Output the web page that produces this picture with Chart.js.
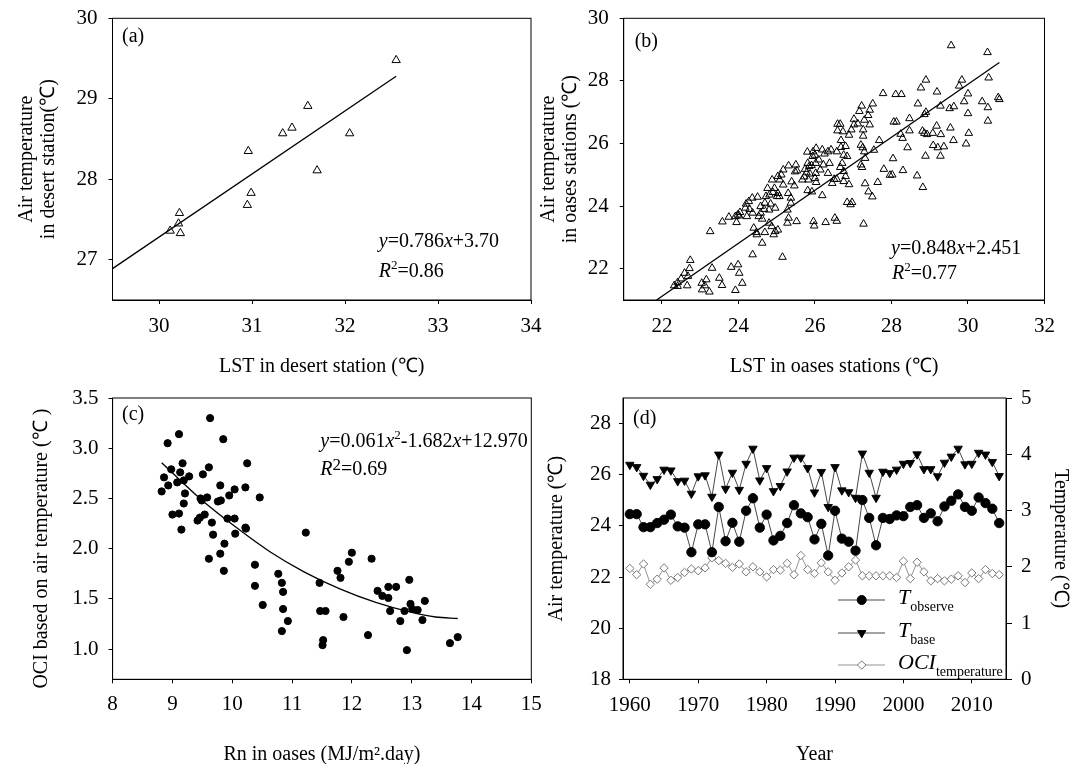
<!DOCTYPE html>
<html><head><meta charset="utf-8">
<script src="https://cdn.jsdelivr.net/npm/chart.js@4.4.1/dist/chart.umd.min.js"></script>
<style>
html,body{margin:0;padding:0;background:#fff;}
#wrap{position:relative;width:1078px;height:764px;overflow:hidden;}
canvas{position:absolute;left:0;top:0;}
</style></head><body><div id="wrap">
<canvas id="ca" width="1078" height="764"></canvas>
<canvas id="cb" width="1078" height="764"></canvas>
<canvas id="cc" width="1078" height="764"></canvas>
<canvas id="cd" width="1078" height="764"></canvas>
</div>
<script>
// ---------- Panel (a) ----------
const aX = [32.55,31.60,31.43,31.33,32.05,30.96,31.70,30.99,30.95,30.22,30.21,30.23,30.12];
const aY = [29.48,28.91,28.64,28.57,28.57,28.35,28.11,27.83,27.68,27.58,27.45,27.33,27.36];
const aFitX = [29.5, 32.55];
const aFitY = [26.89, 29.28];
const aTicksX = [30,31,32,33,34];
const aTicksY = [27,28,29,30];

// ---------- Panel (b) ----------
const bX = [29.56,30.51,30.54,30.79,30.82,30.37,30.52,30.52,29.84,29.77,30.00,29.90,30.00,29.95,30.02,29.63,29.52,29.54,29.62,29.37,29.21,29.28,29.28,29.19,29.29,29.18,29.08,29.09,28.89,28.90,28.77,28.69,28.90,28.86,28.81,28.86,28.93,28.82,28.67,28.26,28.11,27.78,28.47,28.13,28.06,28.24,28.29,28.47,28.42,28.04,28.30,28.02,27.96,27.80,27.64,27.50,27.40,27.31,27.27,27.68,27.54,27.51,27.43,27.39,27.43,27.22,27.16,27.29,27.12,27.26,27.26,27.20,27.29,27.31,27.20,27.23,27.25,27.02,27.02,26.95,26.89,26.80,26.66,26.73,26.59,26.59,26.68,26.68,26.57,26.75,26.84,26.71,26.66,26.75,26.80,26.89,26.75,26.84,26.97,26.93,26.52,26.57,26.28,26.19,26.42,26.34,26.25,26.38,26.22,26.14,26.34,26.50,26.45,26.57,26.19,26.03,25.95,26.00,25.94,26.10,26.02,25.91,25.80,25.81,25.85,25.74,25.78,25.87,26.02,26.00,26.03,25.83,25.81,25.92,25.96,25.98,25.50,25.48,25.31,25.17,25.12,25.08,25.03,24.88,25.17,25.39,25.46,25.03,24.94,24.90,24.81,25.01,25.07,24.84,24.96,24.80,24.69,24.67,24.58,24.53,24.50,24.27,24.29,24.18,24.37,24.58,24.62,24.69,24.87,24.92,24.96,25.03,24.80,24.62,24.37,24.40,24.48,24.47,24.22,24.04,24.02,23.95,23.98,23.92,23.75,23.58,25.30,25.37,25.37,25.28,25.31,25.28,25.52,25.15,23.26,23.31,23.81,23.99,24.02,24.10,23.92,23.57,23.50,23.24,23.16,23.04,23.05,23.12,22.74,22.72,22.68,22.59,22.50,22.41,22.32,22.41,22.66,24.36,24.20,24.72,24.76,25.72,25.67,25.53];
const bY = [29.13,28.91,28.10,27.47,27.41,27.34,27.15,26.72,28.03,27.84,27.59,27.34,26.96,25.99,26.33,27.18,27.12,26.50,26.10,25.90,25.87,25.60,27.20,27.65,26.29,26.56,26.33,25.94,25.60,28.03,27.78,27.27,27.00,26.93,26.40,26.33,26.29,24.60,24.97,27.57,27.57,27.60,26.80,26.69,26.69,26.30,26.17,26.41,25.87,25.52,25.14,25.00,24.99,25.18,24.76,24.30,24.46,24.72,23.43,26.10,25.79,27.27,27.07,26.90,26.60,27.20,27.03,26.75,26.63,26.44,26.24,25.95,25.74,25.53,25.32,25.24,25.87,26.78,26.60,26.44,26.27,25.91,26.62,26.38,26.62,26.41,26.10,25.88,25.74,25.63,25.59,25.37,25.24,25.11,24.95,24.69,24.79,24.12,24.12,24.05,23.62,23.52,23.48,24.34,25.80,25.74,25.67,25.37,25.32,25.16,25.05,24.86,24.73,24.86,25.80,25.85,25.74,25.63,25.59,25.48,25.37,25.30,25.73,25.37,25.27,25.18,25.07,25.03,25.05,24.89,24.76,24.84,24.50,24.46,23.51,23.37,25.32,25.10,25.29,25.16,25.00,24.84,24.95,24.84,24.68,24.78,24.65,24.41,24.57,24.44,24.36,24.31,24.31,24.07,23.94,23.88,24.10,23.90,23.78,23.67,24.29,24.15,23.90,23.94,23.78,23.99,23.59,23.16,23.35,23.09,23.19,23.24,23.46,22.82,22.45,23.30,23.09,23.16,23.67,23.80,23.69,23.48,23.72,23.67,23.65,23.50,24.41,24.26,24.10,23.88,23.62,23.46,23.51,22.37,23.19,22.02,22.05,22.13,21.86,21.54,21.31,21.47,21.70,21.26,21.65,21.54,21.33,21.46,22.27,22.01,21.76,21.86,21.68,21.56,21.46,21.44,21.46,24.26,24.07,24.31,24.57,24.94,24.84,25.13];
const bFitX = [21.86, 30.82];
const bFitY = [21.0, 28.59];
const bTicksX = [22,24,26,28,30,32];
const bTicksY = [22,24,26,28,30];

// ---------- Panel (c) ----------
const cX = [8.82,8.86,8.92,8.93,8.98,9.00,9.08,9.11,9.11,9.13,9.15,9.17,9.19,9.19,9.21,9.28,9.42,9.46,9.47,9.49,9.51,9.54,9.58,9.61,9.61,9.63,9.66,9.68,9.76,9.80,9.80,9.81,9.85,9.86,9.87,9.92,9.95,10.04,10.04,10.05,10.22,10.22,10.23,10.25,10.38,10.38,10.46,10.51,10.77,10.83,10.85,10.83,10.85,10.93,11.23,11.46,11.47,11.56,11.52,11.51,11.76,11.81,11.95,12.00,11.86,12.27,12.33,12.43,12.51,12.61,12.61,12.64,12.74,12.81,12.88,12.96,12.92,12.98,13.01,13.10,13.18,13.22,13.64,13.77];
const cY = [2.57,2.71,3.05,2.63,2.79,2.34,2.66,3.14,2.35,2.76,2.19,2.85,2.68,2.45,2.55,2.72,2.28,2.31,2.50,2.48,2.74,2.34,2.51,2.81,1.90,3.30,2.26,2.14,2.47,2.63,1.95,2.48,3.09,1.78,2.05,2.30,2.53,2.30,2.59,2.15,2.61,2.21,2.20,2.85,1.84,1.63,2.51,1.44,1.75,1.66,1.57,1.18,1.40,1.28,2.16,1.66,1.38,1.38,1.09,1.04,1.78,1.71,1.87,1.96,1.32,1.14,1.90,1.58,1.53,1.62,1.51,1.38,1.62,1.28,1.38,1.69,0.99,1.45,1.40,1.39,1.29,1.48,1.06,1.12];
const cFitX = [8.82,9.46,10.07,10.63,11.20,11.80,12.40,13.00,13.40,13.77];
const cFitY = [2.856,2.50,2.21,1.97,1.77,1.60,1.465,1.365,1.32,1.305];
const cTicksX = [8,9,10,11,12,13,14,15];
const cTicksY = [1.0,1.5,2.0,2.5,3.0,3.5];

// ---------- Panel (d) ----------
const years = [1960,1961,1962,1963,1964,1965,1966,1967,1968,1969,1970,1971,1972,1973,1974,1975,1976,1977,1978,1979,1980,1981,1982,1983,1984,1985,1986,1987,1988,1989,1990,1991,1992,1993,1994,1995,1996,1997,1998,1999,2000,2001,2002,2003,2004,2005,2006,2007,2008,2009,2010,2011,2012,2013,2014];
const tObserve = [24.46,24.46,23.95,23.95,24.11,24.24,24.44,23.98,23.93,22.97,24.06,24.06,22.97,24.74,23.40,24.12,23.38,24.59,25.08,23.93,24.44,23.43,23.61,24.11,24.81,24.49,24.34,23.47,24.08,22.84,24.59,23.50,23.38,23.03,25.01,24.31,23.24,24.31,24.27,24.41,24.38,24.74,24.81,24.31,24.49,24.18,24.76,24.98,25.23,24.74,24.59,25.11,24.89,24.67,24.11];
const tBase = [26.39,26.30,25.96,25.61,25.83,26.20,26.17,25.75,25.77,25.26,25.94,25.98,25.14,26.79,25.45,26.08,25.41,26.43,27.02,25.78,26.26,25.36,25.56,26.13,26.67,26.67,26.26,25.31,26.11,24.74,26.30,25.39,25.32,25.10,26.83,26.08,25.10,26.12,26.07,26.20,26.43,26.46,26.80,26.22,26.22,25.94,26.47,26.71,27.02,26.41,26.43,26.86,26.79,26.50,25.95];
const ociTemp = [1.97,1.86,2.05,1.69,1.78,1.98,1.76,1.81,1.90,1.96,1.93,1.98,2.16,2.11,2.06,1.99,2.05,1.91,2.00,1.91,1.82,1.95,1.94,2.06,1.86,2.20,1.95,1.88,2.07,1.91,1.76,1.89,2.00,2.12,1.84,1.84,1.84,1.84,1.84,1.81,2.10,1.79,2.08,1.91,1.75,1.79,1.75,1.78,1.84,1.72,1.89,1.79,1.95,1.88,1.86];
const dTicksX = [1960,1970,1980,1990,2000,2010];
const dTicksY = [18,20,22,24,26,28];
const dTicksY2 = [0,1,2,3,4,5];

// ---------- helpers ----------
const FONT = "'Liberation Serif','Times New Roman',serif";
function pts(xs, ys){ return xs.map((x,i)=>({x:x, y:ys[i]})); }
function fixSize(size){ return function(s){ if (s.isHorizontal()) s.height = size; else s.width = size; s.paddingTop=0; s.paddingBottom=0; s.paddingLeft=0; s.paddingRight=0; }; }
function axis(o){
  return {
    type:'linear', position:o.position, min:o.min, max:o.max,
    afterBuildTicks: function(s){ s.ticks = o.ticks.map(v=>({value:v})); },
    afterFit: fixSize(o.size),
    border:{display:true, color:'#000', width:1},
    grid:{display:true, drawOnChartArea:false, drawTicks:true, tickLength:o.tl||4, color:'#000', lineWidth:1},
    ticks:{color:'#000', autoSkip:false, maxRotation:0, padding:o.pad, font:{family:FONT, size:21},
      callback: o.fmt || (v=>String(v))},
    title:{display:true, text:o.title, color:'#000', font:{family:FONT, size:20, lineHeight:o.lh||1}, padding:o.tpad}
  };
}
function drawRuns(ctx, x, y, runs, base){
  runs.forEach(r=>{
    const size = r.size || base;
    ctx.font = (r.i ? 'italic ' : '') + size + 'px ' + FONT;
    ctx.fillText(r.t, x, y + (r.dy||0));
    x += ctx.measureText(r.t).width;
  });
}
function annot(items){
  return { id:'annot', afterDraw(chart){
    const ctx = chart.ctx; ctx.save(); ctx.fillStyle='#000'; ctx.textBaseline='middle'; ctx.textAlign='left';
    items.forEach(it=>drawRuns(ctx, it.x, it.y, it.runs, it.size||20));
    ctx.restore();
  }};
}
const boxPlugin = { id:'box', afterDraw(chart){
  const a = chart.chartArea, ctx = chart.ctx; ctx.save(); ctx.strokeStyle='#000'; ctx.lineWidth=1;
  ctx.strokeRect(a.left, a.top, a.right-a.left, a.bottom-a.top); ctx.restore(); }};
function baseOpts(pad, scales){
  return { responsive:false, animation:false, events:[], layout:{padding:pad},
    plugins:{legend:{display:false}, tooltip:{enabled:false}}, scales:scales };
}

// ---------- (a) ----------
new Chart(document.getElementById('ca'), {
  type:'scatter',
  data:{datasets:[
    {label:'fit', data:pts(aFitX,aFitY), showLine:true, borderColor:'#000', borderWidth:1.3, pointRadius:0},
    {label:'desert', data:pts(aX,aY), pointStyle:'triangle', pointRadius:4.8, pointBackgroundColor:'rgba(255,255,255,0)', pointBorderColor:'#000', pointBorderWidth:1}
  ]},
  options: baseOpts({left:0, top:18.3, right:547, bottom:387}, {
    x: axis({position:'bottom', min:29.5, max:34, ticks:aTicksX, size:77, pad:10, title:'LST in desert station (℃)', tpad:{top:0,bottom:0}}),
    y: axis({position:'left', min:26.5, max:30, ticks:aTicksY, size:112.5, pad:11, title:['Air temperature','in desert station(℃)'], lh:1.08, tpad:{top:15.9,bottom:0}})
  }),
  plugins:[boxPlugin, annot([
    {x:122, y:36.5, runs:[{t:'(a)'}]},
    {x:378.8, y:241.7, runs:[{t:'y',i:true},{t:'=0.786'},{t:'x',i:true},{t:'+3.70'}]},
    {x:378.8, y:271.7, runs:[{t:'R',i:true},{t:'2',size:13,dy:-6},{t:'=0.86'}]}
  ])]
});

// ---------- (b) ----------
new Chart(document.getElementById('cb'), {
  type:'scatter',
  data:{datasets:[
    {label:'fit', data:pts(bFitX,bFitY), showLine:true, borderColor:'#000', borderWidth:1.3, pointRadius:0},
    {label:'oases', data:pts(bX,bY), pointStyle:'triangle', pointRadius:4.4, pointBackgroundColor:'rgba(255,255,255,0)', pointBorderColor:'#000', pointBorderWidth:1}
  ]},
  options: baseOpts({left:536, top:18.3, right:33.5, bottom:387}, {
    x: axis({position:'bottom', min:21, max:32, ticks:bTicksX, size:77, pad:10, title:'LST in oases stations (℃)', tpad:{top:0,bottom:0}}),
    y: axis({position:'left', min:21, max:30, ticks:bTicksY, size:87.7, pad:11, title:['Air temperature','in oases stations (℃)'], lh:1.12, tpad:{top:1.4,bottom:0}})
  }),
  plugins:[boxPlugin, annot([
    {x:634.7, y:41.7, runs:[{t:'(b)'}]},
    {x:891, y:248.3, runs:[{t:'y',i:true},{t:'=0.848'},{t:'x',i:true},{t:'+2.451'}]},
    {x:892, y:273.3, runs:[{t:'R',i:true},{t:'2',size:13,dy:-6},{t:'=0.77'}]}
  ])]
});

// ---------- (c) ----------
new Chart(document.getElementById('cc'), {
  type:'scatter',
  data:{datasets:[
    {label:'fit', data:pts(cFitX,cFitY), showLine:true, borderColor:'#000', borderWidth:1.3, pointRadius:0, cubicInterpolationMode:'monotone'},
    {label:'OCI', data:pts(cX,cY), pointStyle:'circle', pointRadius:3.6, pointBackgroundColor:'#000', pointBorderColor:'#000', pointBorderWidth:1}
  ]},
  options: baseOpts({left:0, top:398, right:546.7, bottom:0}, {
    x: axis({position:'bottom', min:8, max:15, ticks:cTicksX, size:84.7, pad:9, title:'Rn in oases (MJ/m².day)', tpad:{top:0,bottom:-1}}),
    y: axis({position:'left', min:0.7, max:3.5, ticks:cTicksY, size:112.6, pad:10, fmt:(v=>Number(v).toFixed(1)), title:'OCI based on air temperature (℃ )\u2003', tpad:{top:31.3,bottom:0}})
  }),
  plugins:[boxPlugin, annot([
    {x:122, y:415, runs:[{t:'(c)'}]},
    {x:320.3, y:441.7, runs:[{t:'y',i:true},{t:'=0.061'},{t:'x',i:true},{t:'2',size:13,dy:-6},{t:'-1.682'},{t:'x',i:true},{t:'+12.970'}]},
    {x:320.3, y:470, runs:[{t:'R',i:true},{t:'2',size:17,dy:-4},{t:'=0.69'}]}
  ])]
});

// ---------- (d) ----------
const legendD = { id:'legendD', afterDraw(chart){
  const ctx = chart.ctx; ctx.save();
  const rows = [
    {y:600, style:'circle', rot:0, r:4.5, fill:'#000', stroke:'#000', main:'T', sub:'observe'},
    {y:633, style:'triangle', rot:180, r:4.8, fill:'#000', stroke:'#000', main:'T', sub:'base'},
    {y:665, style:'rectRot', rot:0, r:4.2, fill:'#fff', stroke:'#777', main:'OCI', sub:'temperature'}
  ];
  rows.forEach(rw=>{
    ctx.strokeStyle = rw.stroke==='#777' ? '#888' : '#333'; ctx.lineWidth=0.9;
    ctx.beginPath(); ctx.moveTo(838,rw.y); ctx.lineTo(885,rw.y); ctx.stroke();
    ctx.fillStyle=rw.fill; ctx.strokeStyle=rw.stroke; ctx.lineWidth=1;
    Chart.helpers.drawPoint(ctx, {pointStyle:rw.style, radius:rw.r, rotation:rw.rot, borderWidth:1}, 861.7, rw.y);
    ctx.fillStyle='#000'; ctx.textBaseline='middle'; ctx.textAlign='left';
    drawRuns(ctx, 898, rw.y-2, [{t:rw.main, i:true, size:22},{t:rw.sub, size:14, dy:9}], 22);
  });
  ctx.restore();
}};
new Chart(document.getElementById('cd'), {
  type:'scatter',
  data:{datasets:[
    {label:'T_observe', data:pts(years,tObserve), yAxisID:'y', showLine:true, borderColor:'#333', borderWidth:0.9, pointStyle:'circle', pointRadius:4.7, pointBackgroundColor:'#000', pointBorderColor:'#000'},
    {label:'T_base', data:pts(years,tBase), yAxisID:'y', showLine:true, borderColor:'#333', borderWidth:0.9, pointStyle:'triangle', rotation:180, pointRadius:4.9, pointBackgroundColor:'#000', pointBorderColor:'#000'},
    {label:'OCI_temperature', data:pts(years,ociTemp), yAxisID:'y2', showLine:true, borderColor:'#888', borderWidth:0.9, pointStyle:'rectRot', pointRadius:4.2, pointBackgroundColor:'#fff', pointBorderColor:'#777', pointBorderWidth:1}
  ]},
  options: baseOpts({left:540, top:398, right:0, bottom:0}, {
    x: axis({position:'bottom', min:1959, max:2015, ticks:dTicksX, size:84.7, pad:10, title:'Year', tpad:{top:0,bottom:-1}}),
    y: axis({position:'left', min:18, max:29, ticks:dTicksY, size:83, pad:8, title:'Air temperature (℃)', tpad:{top:7,bottom:0}}),
    y2: axis({position:'right', min:0, max:5, ticks:dTicksY2, size:72, tl:6, pad:9, title:'Temperature (℃)', tpad:{top:8,bottom:0}})
  }),
  plugins:[boxPlugin, legendD, annot([
    {x:633, y:419, runs:[{t:'(d)'}]}
  ])]
});
</script>
</body></html>
